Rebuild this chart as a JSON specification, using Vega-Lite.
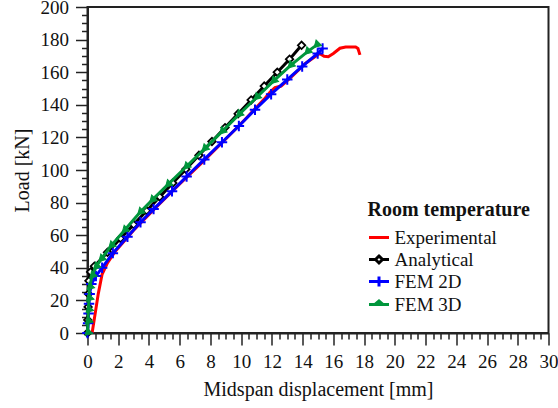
{
  "$schema": "https://vega.github.io/schema/vega-lite/v6.json",
  "width": 461,
  "height": 326,
  "autosize": {"type": "none"},
  "padding": {"left": 87.5, "top": 7, "right": 9.5, "bottom": 75},
  "config": {
    "font": "Liberation Serif",
    "view": {"stroke": "#222", "strokeWidth": 2},
    "axis": {
      "domainColor": "#222", "domainWidth": 2, "tickColor": "#222", "tickWidth": 1.5,
      "grid": false, "labelFont": "Liberation Serif", "labelFontSize": 19, "labelColor": "#111",
      "titleFont": "Liberation Serif", "titleFontSize": 20, "titleFontWeight": "normal", "titleColor": "#111",
      "labelPadding": 7, "titlePadding": 8, "labelOverlap": false, "labelFlush": false
    },
    "legend": {
      "orient": "none", "legendX": 280, "legendY": 193, "padding": 0,
      "titleFont": "Liberation Serif", "titleFontSize": 20, "titleFontWeight": "bold", "titleColor": "#111",
      "labelFont": "Liberation Serif", "labelFontSize": 19, "labelColor": "#111",
      "symbolSize": 400, "symbolStrokeWidth": 3, "labelOffset": 4, "rowPadding": 0, "titlePadding": 6
    }
  },
  "data": {"values": [
    {"s":"Experimental","d":0.3,"p":0},{"s":"Experimental","d":0.5,"p":12},{"s":"Experimental","d":0.7,"p":24},{"s":"Experimental","d":0.95,"p":36},{"s":"Experimental","d":1.3,"p":43},{"s":"Experimental","d":1.8,"p":50},{"s":"Experimental","d":3,"p":63},{"s":"Experimental","d":4.5,"p":77.5},{"s":"Experimental","d":6,"p":91.5},{"s":"Experimental","d":7.5,"p":105},{"s":"Experimental","d":9,"p":119},{"s":"Experimental","d":10.25,"p":131},{"s":"Experimental","d":11.5,"p":143.5},{"s":"Experimental","d":11.9,"p":148},{"s":"Experimental","d":12.2,"p":150.5},{"s":"Experimental","d":12.6,"p":151.5},{"s":"Experimental","d":13.2,"p":156.5},{"s":"Experimental","d":14.2,"p":165.5},{"s":"Experimental","d":15.1,"p":171.5},{"s":"Experimental","d":15.4,"p":169.8},{"s":"Experimental","d":15.67,"p":169.5},{"s":"Experimental","d":16.0,"p":171.5},{"s":"Experimental","d":16.43,"p":174.7},{"s":"Experimental","d":16.8,"p":175.5},{"s":"Experimental","d":17.45,"p":175.4},{"s":"Experimental","d":17.6,"p":174.5},{"s":"Experimental","d":17.73,"p":170.6},
    {"s":"Analytical","d":0,"p":0},{"s":"Analytical","d":0.02,"p":8},{"s":"Analytical","d":0.04,"p":16},{"s":"Analytical","d":0.06,"p":24},{"s":"Analytical","d":0.09,"p":32},{"s":"Analytical","d":0.2,"p":37.5},{"s":"Analytical","d":0.45,"p":41},{"s":"Analytical","d":1.3,"p":49.5},{"s":"Analytical","d":2.15,"p":58},{"s":"Analytical","d":3.0,"p":66.5},{"s":"Analytical","d":3.85,"p":75},{"s":"Analytical","d":4.7,"p":83.5},{"s":"Analytical","d":5.55,"p":92},{"s":"Analytical","d":6.4,"p":100.5},{"s":"Analytical","d":7.25,"p":109},{"s":"Analytical","d":8.1,"p":117.5},{"s":"Analytical","d":8.95,"p":126},{"s":"Analytical","d":9.8,"p":134.5},{"s":"Analytical","d":10.65,"p":143},{"s":"Analytical","d":11.5,"p":151.5},{"s":"Analytical","d":12.35,"p":160},{"s":"Analytical","d":13.15,"p":168},{"s":"Analytical","d":13.93,"p":176.5},
    {"s":"FEM 2D","d":0,"p":0},{"s":"FEM 2D","d":0.04,"p":6},{"s":"FEM 2D","d":0.07,"p":12},{"s":"FEM 2D","d":0.1,"p":18},{"s":"FEM 2D","d":0.14,"p":24},{"s":"FEM 2D","d":0.25,"p":30},{"s":"FEM 2D","d":0.55,"p":35},{"s":"FEM 2D","d":0.95,"p":40},{"s":"FEM 2D","d":1.65,"p":49},{"s":"FEM 2D","d":2.6,"p":59},{"s":"FEM 2D","d":3.45,"p":68},{"s":"FEM 2D","d":4.3,"p":76},{"s":"FEM 2D","d":5.5,"p":87},{"s":"FEM 2D","d":6.45,"p":96},{"s":"FEM 2D","d":7.6,"p":106.5},{"s":"FEM 2D","d":8.75,"p":117},{"s":"FEM 2D","d":9.85,"p":127},{"s":"FEM 2D","d":10.9,"p":137},{"s":"FEM 2D","d":11.95,"p":146.5},{"s":"FEM 2D","d":13.0,"p":155.5},{"s":"FEM 2D","d":13.97,"p":163.5},{"s":"FEM 2D","d":14.98,"p":171.5},{"s":"FEM 2D","d":15.3,"p":174.5},
    {"s":"FEM 3D","d":0,"p":0},{"s":"FEM 3D","d":0.03,"p":7},{"s":"FEM 3D","d":0.06,"p":14},{"s":"FEM 3D","d":0.09,"p":21},{"s":"FEM 3D","d":0.13,"p":28},{"s":"FEM 3D","d":0.3,"p":35},{"s":"FEM 3D","d":0.55,"p":40.5},{"s":"FEM 3D","d":0.89,"p":45.3},{"s":"FEM 3D","d":1.54,"p":53.5},{"s":"FEM 3D","d":2.41,"p":63},{"s":"FEM 3D","d":3.42,"p":74},{"s":"FEM 3D","d":4.2,"p":81.5},{"s":"FEM 3D","d":5.23,"p":91},{"s":"FEM 3D","d":6.42,"p":102},{"s":"FEM 3D","d":7.61,"p":113},{"s":"FEM 3D","d":8.75,"p":123.5},{"s":"FEM 3D","d":9.85,"p":134},{"s":"FEM 3D","d":11.0,"p":144.5},{"s":"FEM 3D","d":12.1,"p":154.5},{"s":"FEM 3D","d":13.2,"p":164},{"s":"FEM 3D","d":14.3,"p":172.5},{"s":"FEM 3D","d":14.9,"p":176.6}
  ]},
  "encoding": {
    "x": {"field": "d", "type": "quantitative", "scale": {"domain": [0, 30], "nice": false, "zero": false},
      "axis": {"title": "Midspan displacement [mm]", "labelFont": "Liberation Serif",
        "values": [0,0.5,1,1.5,2,2.5,3,3.5,4,4.5,5,5.5,6,6.5,7,7.5,8,8.5,9,9.5,10,10.5,11,11.5,12,12.5,13,13.5,14,14.5,15,15.5,16,16.5,17,17.5,18,18.5,19,19.5,20,20.5,21,21.5,22,22.5,23,23.5,24,24.5,25,25.5,26,26.5,27,27.5,28,28.5,29,29.5,30],
        "labelExpr": "datum.value % 2 === 0 ? format(datum.value, 'd') : ''",
        "tickSize": {"condition": {"test": "datum.value % 2 === 0", "value": 12}, "value": 6}}},
    "y": {"field": "p", "type": "quantitative", "scale": {"domain": [0, 200], "nice": false},
      "axis": {"title": "Load [kN]", "labelFont": "Liberation Serif",
        "values": [0,5,10,15,20,25,30,35,40,45,50,55,60,65,70,75,80,85,90,95,100,105,110,115,120,125,130,135,140,145,150,155,160,165,170,175,180,185,190,195,200],
        "labelExpr": "datum.value % 20 === 0 ? format(datum.value, 'd') : ''",
        "tickSize": {"condition": {"test": "datum.value % 20 === 0", "value": 12}, "value": 6}}}
  },
  "layer": [
    {"transform": [{"filter": "datum.s === 'Experimental'"}],
     "mark": {"type": "line", "strokeWidth": 3, "clip": true},
     "encoding": {"color": {"field": "s", "type": "nominal", "title": "Room temperature",
       "scale": {"domain": ["Experimental", "Analytical", "FEM 2D", "FEM 3D"], "range": ["#ff0000", "#000000", "#0000ff", "#00963c"]},
       "legend": {"encode": {"symbols": {"update": {
         "shape": {"signal": "datum.value === 'Experimental' ? 'M-1,0H1' : datum.value === 'Analytical' ? 'M-1,0H-0.35M0.35,0H1M-0.35,0L0,-0.35L0.35,0L0,0.35Z' : datum.value === 'FEM 2D' ? 'M-1,0H1M0,-0.5V0.5' : 'M-1,0H1M-0.4,0L0,-0.35L0.4,0Z'"},
         "fill": {"signal": "datum.value === 'Analytical' ? 'white' : datum.value === 'FEM 3D' ? '#00963c' : 'transparent'"}}}}}}}},
    {"transform": [{"filter": "datum.s === 'Analytical'"}],
     "mark": {"type": "line", "strokeWidth": 3},
     "encoding": {"color": {"field": "s", "type": "nominal"}}},
    {"transform": [{"filter": "datum.s === 'Analytical'"}],
     "mark": {"type": "point", "shape": "diamond", "size": 55, "filled": true, "fill": "white", "stroke": "#000000", "strokeWidth": 1.8, "opacity": 1}},
    {"transform": [{"filter": "datum.s === 'FEM 2D'"}],
     "mark": {"type": "line", "strokeWidth": 3},
     "encoding": {"color": {"field": "s", "type": "nominal"}}},
    {"transform": [{"filter": "datum.s === 'FEM 2D'"}],
     "mark": {"type": "point", "shape": "M-1,0H1M0,-1V1", "size": 110, "filled": false, "stroke": "#0000ff", "strokeWidth": 2, "opacity": 1}},
    {"transform": [{"filter": "datum.s === 'FEM 3D'"}],
     "mark": {"type": "line", "strokeWidth": 3},
     "encoding": {"color": {"field": "s", "type": "nominal"}}},
    {"transform": [{"filter": "datum.s === 'FEM 3D'"}],
     "mark": {"type": "point", "shape": "triangle-down", "angle": 45, "size": 60, "filled": true, "fill": "#00963c", "stroke": "#00963c", "strokeWidth": 1, "opacity": 1}}
  ]
}
